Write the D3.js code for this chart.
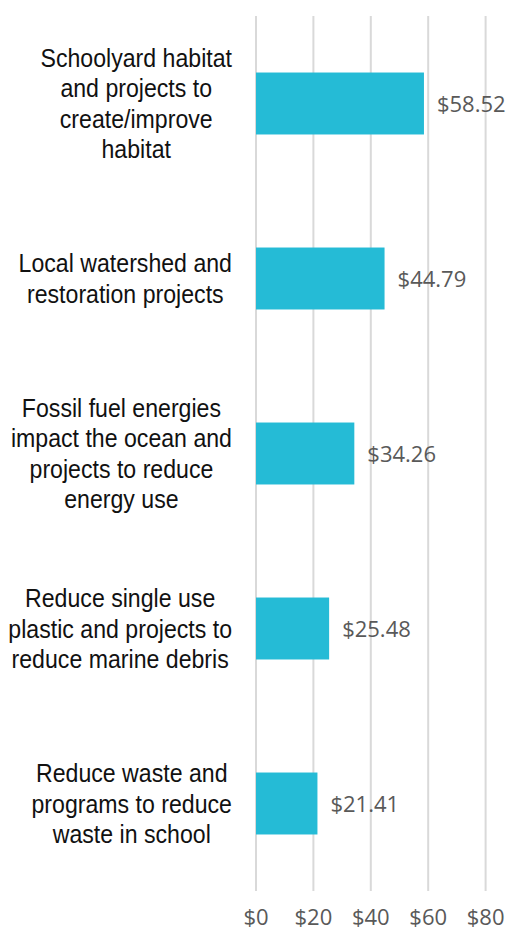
<!DOCTYPE html>
<html>
<head>
<meta charset="utf-8">
<script src="https://cdn.jsdelivr.net/npm/d3@7"></script>
<style>
  body { margin: 0; background: #fff; }
  svg { display: block; }
</style>
</head>
<body>
<svg id="chart"></svg>
<script>
// Data
const categories = [
  ['Schoolyard habitat', 'and projects to', 'create/improve', 'habitat'],
  ['Local watershed and', 'restoration projects'],
  ['Fossil fuel energies', 'impact the ocean and', 'projects to reduce', 'energy use'],
  ['Reduce single use', 'plastic and projects to', 'reduce marine debris'],
  ['Reduce waste and', 'programs to reduce', 'waste in school']
];
const values = [58.52, 44.79, 34.26, 25.48, 21.41];
const ticks = [0, 20, 40, 60, 80];

const W = 509, H = 932;
const svg = d3.select('#chart').attr('width', W).attr('height', H);

const x = d3.scaleLinear().domain([0, 80]).range([256, 485.6]);
const y = d3.scaleBand().domain(d3.range(values.length)).range([16, 891])
  .paddingInner(0.646).paddingOuter(0.323);

// Gridlines
svg.append('g').selectAll('line').data(ticks).enter().append('line')
  .attr('x1', d => x(d)).attr('x2', d => x(d))
  .attr('y1', 16).attr('y2', 891)
  .attr('stroke', '#d9d9d9').attr('stroke-width', 2);

// Tick labels
svg.append('g').selectAll('text').data(ticks).enter().append('text')
  .attr('x', d => x(d)).attr('y', 925)
  .attr('text-anchor', 'middle')
  .attr('font-family', 'Open Sans, sans-serif').attr('font-size', 22)
  .attr('fill', '#595959')
  .text(d => '$' + d);

// Bars
svg.append('g').selectAll('rect').data(values).enter().append('rect')
  .attr('x', x(0)).attr('y', (d, i) => y(i))
  .attr('width', d => x(d) - x(0)).attr('height', y.bandwidth())
  .attr('fill', '#25bbd6');

// Value labels
svg.append('g').selectAll('text').data(values).enter().append('text')
  .attr('x', d => x(d) + 13).attr('y', (d, i) => y(i) + y.bandwidth() / 2 + 8)
  .attr('font-family', 'Open Sans, sans-serif').attr('font-size', 22)
  .attr('fill', '#595959')
  .text(d => '$' + d.toFixed(2));

// Category labels, right aligned block with centred lines
const sx = 0.925, lineH = 30.5, rightEdge = 232;
categories.forEach((lines, i) => {
  const cy = y(i) + y.bandwidth() / 2;
  const g = svg.append('g');
  const t = g.append('text')
    .attr('font-family', 'Liberation Sans, Arial, sans-serif').attr('font-size', 25)
    .attr('fill', '#111').attr('text-anchor', 'middle');
  lines.forEach((s, j) => {
    t.append('tspan').attr('x', 0)
      .attr('y', (j - (lines.length - 1) / 2) * lineH + 9)
      .text(s);
  });
  let maxW = 0;
  t.selectAll('tspan').each(function () { maxW = Math.max(maxW, this.getComputedTextLength()); });
  const cx = rightEdge - maxW * sx / 2;
  g.attr('transform', `translate(${cx},${cy}) scale(${sx},1)`);
});
</script>
</body>
</html>
